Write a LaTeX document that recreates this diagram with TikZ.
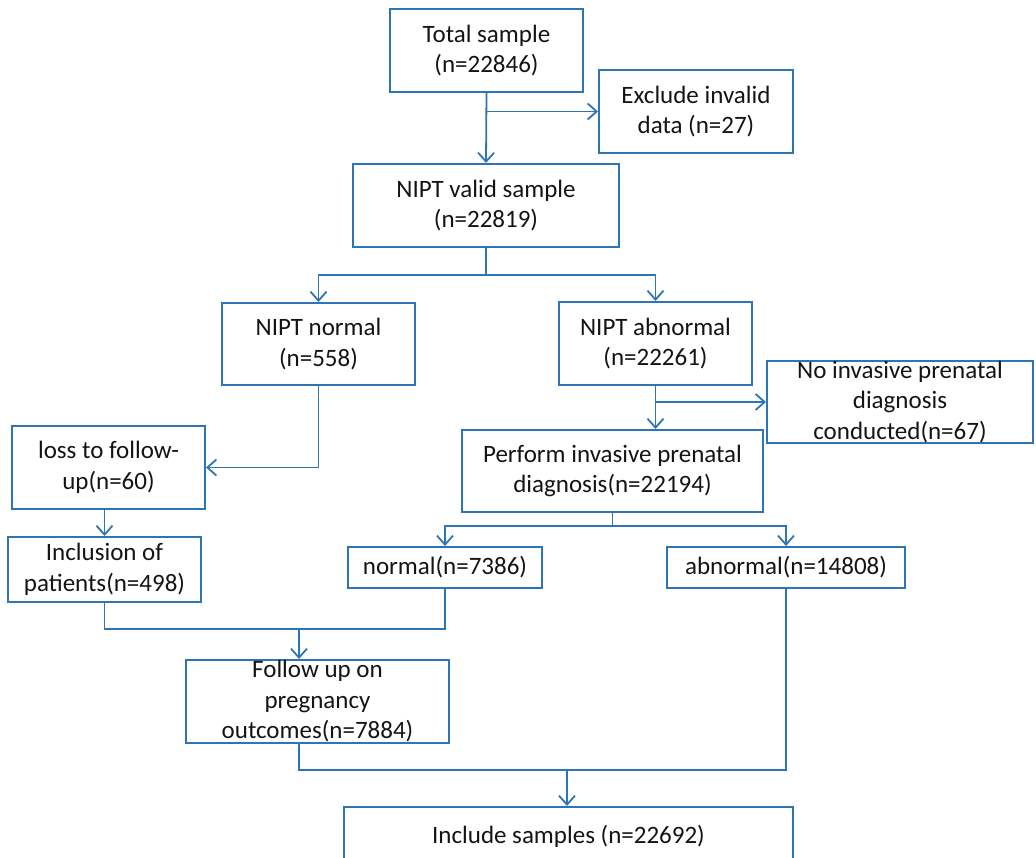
\documentclass[tikz,border=0pt]{standalone}
\usepackage{fontspec}
\setmainfont{Carlito}
\usetikzlibrary{arrows.meta}
\definecolor{flowblue}{RGB}{46,117,182}
\definecolor{txt}{RGB}{20,20,20}
\begin{document}
\begin{tikzpicture}[x=1pt,y=-1pt,
  box/.style={draw=flowblue,line width=2pt,inner sep=0pt,align=center,
    text=txt,font=\fontsize{25}{30.5}\selectfont},
  link/.style={draw=flowblue,line width=1.8pt},
  arr/.style={link,-{Straight Barb[length=9pt,width=16pt,line width=1.8pt]}}]
\useasboundingbox (0,0) rectangle (1036,857);
\clip (0,0) rectangle (1036,857);
\node[box,minimum width=193pt,minimum height=83pt] (total) at (486.5,50.5) {Total sample\\(n=22846)};
\node[box,minimum width=194pt,minimum height=83pt] (excl) at (696,111.5) {Exclude invalid\\data (n=27)};
\node[box,minimum width=266pt,minimum height=83pt] (valid) at (486,205.5) {NIPT valid sample\\(n=22819)};
\node[box,minimum width=193pt,minimum height=82pt] (nnorm) at (318.5,344) {NIPT normal\\(n=558)};
\node[box,minimum width=193pt,minimum height=83pt] (nabn) at (655.5,343.5) {NIPT abnormal\\(n=22261)};
\node[box,minimum width=266pt,minimum height=82pt] (noinv) at (900,402) {No invasive prenatal\\diagnosis\\conducted(n=67)};
\node[box,minimum width=301pt,minimum height=82pt] (perform) at (612.5,471) {Perform invasive prenatal\\diagnosis(n=22194)};
\node[box,minimum width=193pt,minimum height=83pt] (loss) at (108.5,467.5) {loss to follow-\\up(n=60)};
\node[box,minimum width=193pt,minimum height=65pt] (incl) at (104.5,569.5) {Inclusion of\\patients(n=498)};
\node[box,minimum width=194pt,minimum height=41pt] (normal) at (445,567.5) {normal(n=7386)};
\node[box,minimum width=238pt,minimum height=41pt] (abn) at (786,567.5) {abnormal(n=14808)};
\node[box,minimum width=263pt,minimum height=83pt] (follow) at (317.5,701.5) {Follow up on\\pregnancy\\outcomes(n=7884)};
\node[box,minimum width=449pt,minimum height=83pt,text height=18pt,text depth=29pt] (include) at (568.5,848.5) {Include samples (n=22692)};
\coordinate (s1) at (486,275);
\coordinate (s2) at (612.5,526);
\coordinate (s3) at (299,629);
\coordinate (s4) at (567,770);
% connectors
\draw[arr] (total.south) -- (valid.north);
\draw[arr] (total.south |- excl.west) -- (excl.west);
\draw[link] (valid.south) -- (s1);
\draw[arr] (s1) -| (nnorm.north);
\draw[arr] (s1) -| (nabn.north);
\draw[arr] (nnorm.south) |- (loss.east);
\draw[arr] (incl.north |- loss.south) -- (incl.north);
\draw[arr] (nabn.south) -- (nabn.south |- perform.north);
\draw[arr] (nabn.south |- noinv.west) -- (noinv.west);
\draw[link] (perform.south) -- (s2);
\draw[arr] (s2) -| (normal.north);
\draw[arr] (s2) -| (abn.north);
\draw[link] (incl.south) |- (s3);
\draw[link] (normal.south) |- (s3);
\draw[arr] (s3) -- (s3 |- follow.north);
\draw[link] (s3 |- follow.south) |- (s4);
\draw[link] (abn.south) |- (s4);
\draw[arr] (s4) -- (s4 |- include.north);
\end{tikzpicture}
\end{document}
